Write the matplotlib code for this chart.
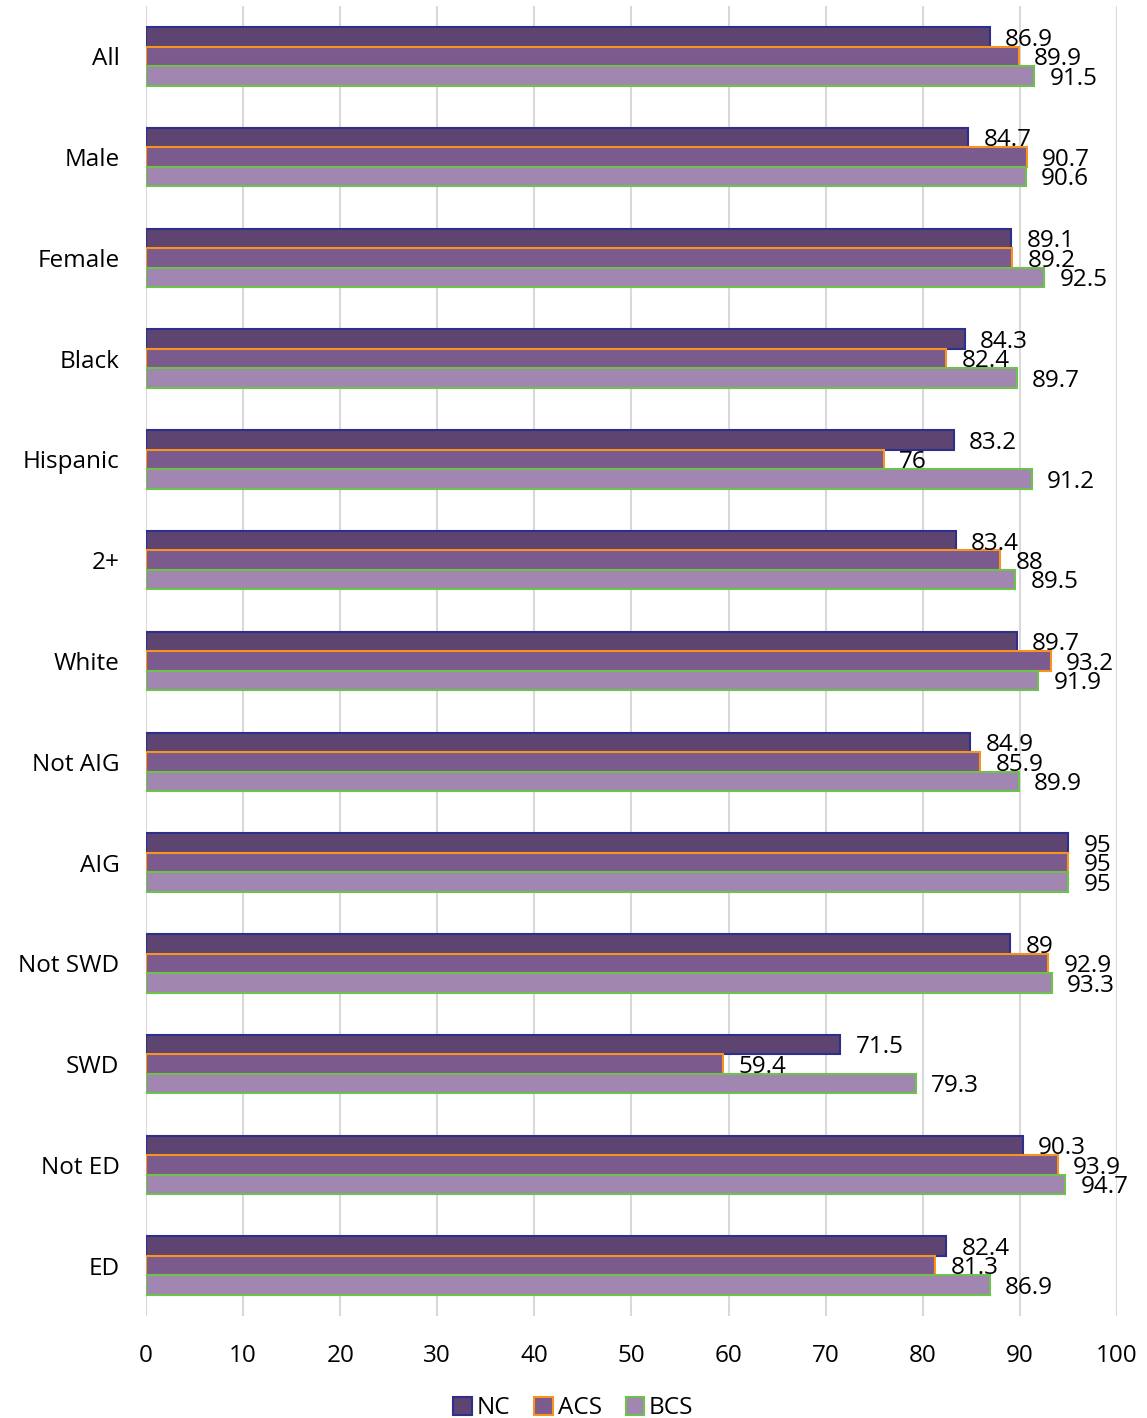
import matplotlib.pyplot as plt
import numpy as np
from matplotlib.patches import Patch

plt.rcParams['font.family'] = ['Open Sans', 'DejaVu Sans']

categories = ['All', 'Male', 'Female', 'Black', 'Hispanic', '2+', 'White',
              'Not AIG', 'AIG', 'Not SWD', 'SWD', 'Not ED', 'ED']
nc = [86.9, 84.7, 89.1, 84.3, 83.2, 83.4, 89.7, 84.9, 95, 89, 71.5, 90.3, 82.4]
acs = [89.9, 90.7, 89.2, 82.4, 76, 88, 93.2, 85.9, 95, 92.9, 59.4, 93.9, 81.3]
bcs = [91.5, 90.6, 92.5, 89.7, 91.2, 89.5, 91.9, 89.9, 95, 93.3, 79.3, 94.7, 86.9]

series = [('NC', nc, '#5e4571', '#2e2f8c'),
          ('ACS', acs, '#7b5a8d', '#f7931e'),
          ('BCS', bcs, '#a086b0', '#6cc24a')]

fig = plt.figure(figsize=(11.47, 14.18), dpi=100)
ax = fig.add_axes([0.1273, 0.0719, 0.8465, 0.9239])

y = np.arange(len(categories))
h = 0.193
for i, (name, vals, fc, ec) in enumerate(series):
    pos = y + (i - 1) * h
    ax.barh(pos, vals, height=h, color=fc, edgecolor=ec, linewidth=1.5, zorder=3)
    for p, v in zip(pos, vals):
        ax.annotate(f'{v:g}', (v, p), xytext=(11, -2), textcoords='offset points',
                    va='center', ha='left', fontsize=17.5, zorder=4)

ax.set_xlim(0, 100)
ax.set_ylim(len(categories) - 0.5, -0.5)
ax.set_xticks(range(0, 101, 10))
ax.set_yticks(y)
ax.set_yticklabels(categories)
ax.tick_params(axis='both', length=0, labelsize=17.5)
ax.tick_params(axis='x', pad=20)
ax.tick_params(axis='y', pad=19)
ax.grid(axis='x', color='#d9d9d9', linewidth=1.5, zorder=0)
for s in ax.spines.values():
    s.set_visible(False)

handles = [Patch(facecolor=fc, edgecolor=ec, linewidth=1.5, label=name)
           for name, _, fc, ec in series]
fig.legend(handles=handles, loc='lower center', bbox_to_anchor=(0.5, -0.017), ncol=3,
           frameon=False, fontsize=17.5, handlelength=0.75, handleheight=0.75,
           handletextpad=0.2, columnspacing=1.0)

fig.savefig('out.png', dpi=100)
